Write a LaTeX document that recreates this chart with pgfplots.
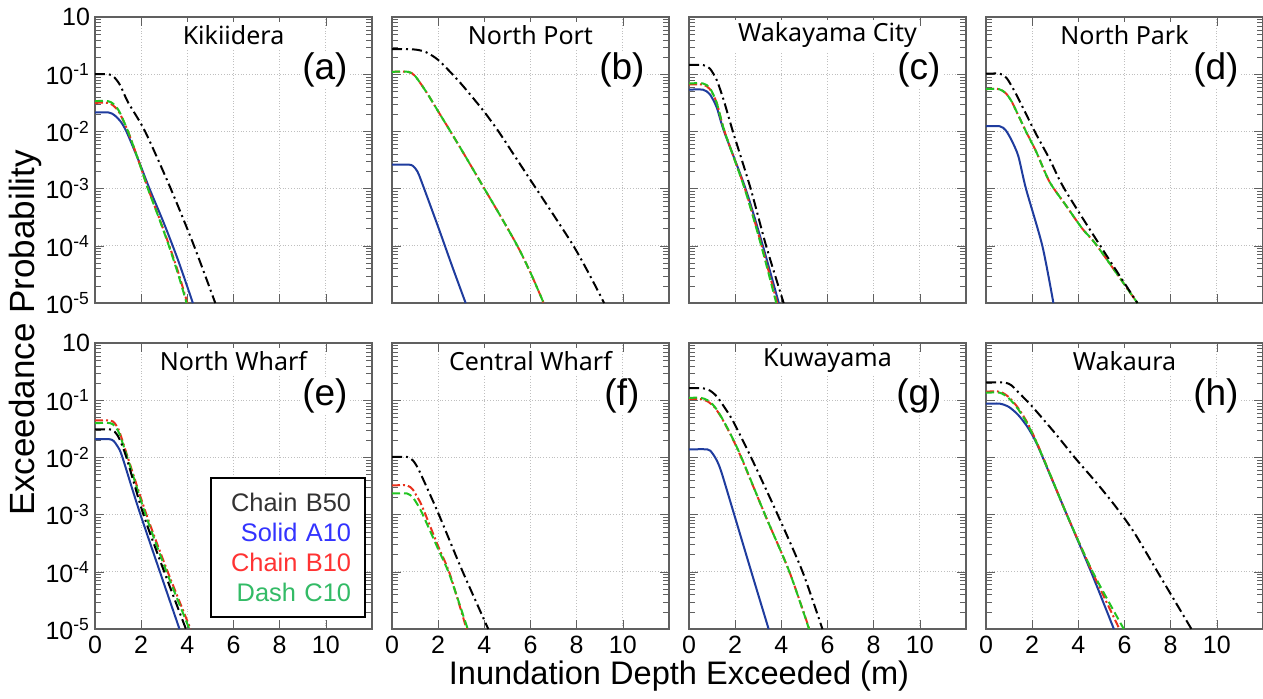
\documentclass[border=0pt]{standalone}
\usepackage{fontspec}
\setmainfont{Liberation Sans}
\newfontfamily\ttlfont{Noto Sans}
\usepackage{pgfplots}
\pgfplotsset{compat=1.18}

\definecolor{cBlu}{HTML}{1F3C9E}
\definecolor{cRed}{HTML}{E8301C}
\definecolor{cGrn}{HTML}{22C422}
\definecolor{tBlk}{HTML}{333333}
\definecolor{tBlu}{HTML}{3333FF}
\definecolor{tRed}{HTML}{FF3333}
\definecolor{tGrn}{HTML}{33BB66}

\pgfplotsset{
  every axis/.append style={
    width=138.5pt, height=143pt, scale only axis, anchor=north west,
    xmin=0, xmax=12, ymin=1e-5, ymax=1,
    xtick={0,2,...,10}, ytick={1e-5,1e-4,1e-3,1e-2,1e-1,1},
    grid=major, major grid style={gray!50, densely dotted, line width=0.5pt},
    axis line style={gray!75!black, line width=0.6pt},
    tick style={gray!75!black}, tick align=inside,
    xticklabel style={font=\fontsize{12.5}{14}\selectfont},
    yticklabel style={font=\fontsize{12.5}{14}\selectfont, xshift=1pt},
  },
  every axis plot/.append style={smooth, tension=0.45},
  seriesB50/.style={black, line width=1pt, dash pattern=on 5pt off 2pt on 1pt off 2pt},
  seriesA10/.style={cBlu, line width=1pt},
  seriesB10/.style={cRed, line width=1pt, dash pattern=on 4pt off 1.5pt on 1pt off 1.5pt},
  seriesC10/.style={cGrn, line width=1pt, dash pattern=on 4pt off 2pt},
}

\newcommand{\paneltext}[2]{%
  \node[fill=white, inner sep=1.5pt, font=\ttlfont\fontsize{12.5}{14}\selectfont] at (rel axis cs:0.5,0.937) {#1};
  \node[fill=white, inner sep=1pt, font=\fontsize{18.5}{21}\selectfont] at (rel axis cs:0.83,0.815) {#2};
}

\begin{document}
\begin{tikzpicture}
\useasboundingbox (0,0) rectangle (631.5pt,-349pt);

% ---- top row ----
\begin{axis}[ymode=log, at={(47.5pt,-8.5pt)}, xticklabels={},
  yticklabels={10\textsuperscript{-5},10\textsuperscript{-4},10\textsuperscript{-3},10\textsuperscript{-2},10\textsuperscript{-1},10}]
\addplot[seriesA10] coordinates {(0,0.0214)(0.6,0.0214)(0.85,0.0191)(1.1,0.0151)(1.36,0.01)(1.86,0.00331)(2.36,0.001)(3.0,2.4e-4)(3.6,5.6e-5)(4.24,1e-5)};
\addplot[seriesB10] coordinates {(0,0.0316)(0.55,0.0316)(0.8,0.0282)(1.05,0.0214)(1.43,0.01)(1.86,0.00331)(2.3,0.001)(2.75,3.3e-4)(3.22,1e-4)(3.62,3.3e-5)(4.0,1e-5)};
\addplot[seriesC10] coordinates {(0,0.0339)(0.55,0.0339)(0.8,0.0302)(1.05,0.0224)(1.43,0.01)(1.86,0.00331)(2.29,0.001)(2.74,3.3e-4)(3.2,1e-4)(3.59,3.3e-5)(3.97,1e-5)};
\addplot[seriesB50] coordinates {(0,0.1)(0.6,0.1)(0.85,0.087)(1.1,0.063)(1.43,0.0324)(2.17,0.01)(3.28,0.001)(4.29,1e-4)(5.21,1e-5)};
\paneltext{Kikiidera}{(a)}
\end{axis}

\begin{axis}[ymode=log, at={(196pt,-8.5pt)}, xticklabels={}, yticklabels={}]
\addplot[seriesA10] coordinates {(0,0.00263)(0.7,0.00263)(0.9,0.00251)(1.1,0.002)(1.3,0.00126)(2.0,2.14e-4)(2.6,4.47e-5)(3.19,1e-5)};
\addplot[seriesB10] coordinates {(0,0.11)(0.7,0.11)(1.0,0.093)(1.5,0.048)(2.0,0.0224)(2.5,0.0105)(3.2,0.00355)(4.0,0.001)(4.7,3.31e-4)(5.43,1e-4)(6.0,3.39e-5)(6.57,1e-5)};
\addplot[seriesC10] coordinates {(0,0.11)(0.7,0.11)(1.0,0.093)(1.5,0.048)(2.0,0.0224)(2.5,0.0105)(3.2,0.00355)(4.0,0.001)(4.7,3.31e-4)(5.43,1e-4)(6.0,3.39e-5)(6.57,1e-5)};
\addplot[seriesB50] coordinates {(0,0.275)(1.0,0.27)(1.5,0.24)(2.0,0.178)(2.5,0.112)(3.0,0.0676)(3.5,0.0389)(4.0,0.0219)(4.6,0.0102)(5.3,0.0038)(6.0,0.00141)(6.9,3.98e-4)(7.86,1e-4)(8.55,3.16e-5)(9.19,1e-5)};
\paneltext{North Port}{(b)}
\end{axis}

\begin{axis}[ymode=log, at={(344.5pt,-8.5pt)}, xticklabels={}, yticklabels={}]
\addplot[seriesA10] coordinates {(0,0.0537)(0.6,0.0537)(0.9,0.0447)(1.2,0.0263)(1.52,0.01)(2.45,0.001)(3.2,1e-4)(3.89,1e-5)};
\addplot[seriesB10] coordinates {(0,0.066)(0.6,0.066)(0.9,0.055)(1.2,0.0316)(1.54,0.01)(2.42,0.001)(3.15,1e-4)(3.82,1e-5)};
\addplot[seriesC10] coordinates {(0,0.069)(0.6,0.069)(0.9,0.0575)(1.2,0.0316)(1.54,0.01)(2.41,0.001)(3.13,1e-4)(3.78,1e-5)};
\addplot[seriesB50] coordinates {(0,0.145)(0.6,0.145)(0.9,0.126)(1.2,0.079)(1.5,0.0355)(1.9,0.01)(2.67,0.001)(3.34,1e-4)(4.1,1e-5)};
\paneltext{Wakayama City}{(c)}
\end{axis}

\begin{axis}[ymode=log, at={(493pt,-8.5pt)}, xticklabels={}, yticklabels={}]
\addplot[seriesA10] coordinates {(0,0.0123)(0.6,0.0123)(0.85,0.0105)(1.1,0.0071)(1.4,0.0037)(1.73,0.001)(2.44,1e-4)(2.92,1e-5)};
\addplot[seriesB10] coordinates {(0,0.055)(0.55,0.055)(0.85,0.0468)(1.1,0.0339)(1.33,0.0219)(1.73,0.01)(2.18,0.00437)(2.75,0.00132)(3.46,5.1e-4)(4.17,2.0e-4)(4.81,1e-4)(6.56,1e-5)};
\addplot[seriesC10] coordinates {(0,0.055)(0.55,0.055)(0.85,0.0468)(1.1,0.0339)(1.33,0.0219)(1.73,0.01)(2.18,0.00437)(2.75,0.00132)(3.46,5.1e-4)(4.17,2.0e-4)(4.81,1e-4)(6.56,1e-5)};
\addplot[seriesB50] coordinates {(0,0.102)(0.6,0.102)(0.9,0.085)(1.33,0.0427)(2.11,0.01)(2.75,0.00331)(3.39,0.001)(4.95,1e-4)(6.56,1e-5)};
\paneltext{North Park}{(d)}
\end{axis}

% ---- bottom row ----
\begin{axis}[ymode=log, at={(47.5pt,-171.5pt)}, xticklabels={0,2,4,6,8,10},
  yticklabels={10\textsuperscript{-5},10\textsuperscript{-4},10\textsuperscript{-3},10\textsuperscript{-2},10\textsuperscript{-1},10}]
\addplot[seriesA10] coordinates {(0,0.0209)(0.6,0.0209)(0.8,0.0195)(1.0,0.0151)(1.19,0.01)(1.97,0.001)(3.66,1e-5)};
\addplot[seriesB10] coordinates {(0,0.0442)(0.65,0.0442)(0.85,0.0398)(1.05,0.0288)(1.42,0.01)(2.23,0.001)(3.15,1e-4)(4.14,1e-5)};
\addplot[seriesC10] coordinates {(0,0.0398)(0.65,0.0398)(0.85,0.0355)(1.05,0.0263)(1.4,0.01)(2.19,0.001)(3.1,1e-4)(4.09,1e-5)};
\addplot[seriesB50] coordinates {(0,0.0309)(0.65,0.0309)(0.85,0.0282)(1.05,0.0214)(1.36,0.01)(2.1,0.001)(3.0,1e-4)(3.94,1e-5)};
\paneltext{North Wharf}{(e)}
\node[draw=black, line width=1pt, fill=white, align=right, text width=63pt, inner xsep=7pt,
      minimum height=69.5pt, font=\fontsize{12.7}{15}\selectfont]
  at (rel axis cs:0.697,0.285)
  {\textcolor{tBlk}{Chain B50}\\\textcolor{tBlu}{Solid A10}\\\textcolor{tRed}{Chain B10}\\\textcolor{tGrn}{Dash C10}};
\end{axis}

\begin{axis}[ymode=log, at={(196pt,-171.5pt)}, xticklabels={0,2,4,6,8,10}, yticklabels={}]
\addplot[seriesB10] coordinates {(0,0.00324)(0.65,0.00324)(0.9,0.00275)(1.1,0.002)(1.3,0.00141)(2.0,2.8e-4)(2.5,9.3e-5)(3.23,1e-5)};
\addplot[seriesC10] coordinates {(0,0.00234)(0.65,0.00234)(0.9,0.002)(1.1,0.00151)(1.3,0.00107)(2.0,2.5e-4)(2.5,8.7e-5)(3.28,1e-5)};
\addplot[seriesB50] coordinates {(0,0.0102)(0.65,0.0102)(0.9,0.0089)(1.1,0.00676)(1.29,0.00468)(2.0,0.00107)(3.0,1.15e-4)(4.17,1e-5)};
\paneltext{Central Wharf}{(f)}
\end{axis}

\begin{axis}[ymode=log, at={(344.5pt,-171.5pt)}, xticklabels={0,2,4,6,8,10}, yticklabels={}]
\addplot[seriesA10] coordinates {(0,0.0138)(0.8,0.0138)(1.0,0.012)(1.2,0.0089)(1.4,0.0056)(1.9,0.0012)(2.7,1e-4)(3.45,1e-5)};
\addplot[seriesB10] coordinates {(0,0.105)(0.5,0.105)(0.8,0.0955)(1.1,0.0759)(1.4,0.0501)(1.8,0.0251)(2.26,0.01)(3.29,0.001)(4.35,1e-4)(5.21,1e-5)};
\addplot[seriesC10] coordinates {(0,0.11)(0.5,0.11)(0.8,0.1)(1.1,0.078)(1.4,0.051)(1.8,0.0255)(2.27,0.01)(3.29,0.001)(4.35,1e-4)(5.2,1e-5)};
\addplot[seriesB50] coordinates {(0,0.162)(0.6,0.162)(0.9,0.148)(1.2,0.117)(1.5,0.079)(1.9,0.0437)(2.69,0.01)(3.84,0.001)(4.92,1e-4)(5.78,1e-5)};
\paneltext{Kuwayama}{(g)}
\end{axis}

\begin{axis}[ymode=log, at={(493pt,-171.5pt)}, xticklabels={0,2,4,6,8,10}, yticklabels={}]
\addplot[seriesA10] coordinates {(0,0.087)(0.6,0.087)(1.0,0.0759)(1.4,0.055)(1.8,0.0339)(2.2,0.0174)(2.8,0.00468)(3.5,0.001)(4.55,1e-4)(5.54,1e-5)};
\addplot[seriesB10] coordinates {(0,0.141)(0.6,0.141)(1.0,0.112)(1.4,0.0724)(1.8,0.0398)(2.2,0.0182)(2.8,0.00479)(3.5,0.001)(4.6,1e-4)(5.78,1e-5)};
\addplot[seriesC10] coordinates {(0,0.135)(0.6,0.135)(1.0,0.107)(1.4,0.0692)(1.8,0.038)(2.2,0.0178)(2.8,0.00479)(3.5,0.001)(4.62,1e-4)(5.97,1e-5)};
\addplot[seriesB50] coordinates {(0,0.204)(0.8,0.204)(1.1,0.182)(1.4,0.138)(2.0,0.0776)(3.0,0.0263)(3.84,0.01)(4.8,0.00355)(5.6,0.00141)(6.4,5.0e-4)(7.43,1e-4)(8.9,1e-5)};
\paneltext{Wakaura}{(h)}
\end{axis}

% ---- shared axis titles ----
\node[rotate=90, font=\fontsize{17.5}{20}\selectfont] at (12.5pt,-166.5pt) {Exceedance Probability};
\node[font=\fontsize{16.3}{19}\selectfont] at (339.5pt,-338pt) {Inundation Depth Exceeded (m)};
\end{tikzpicture}
\end{document}
